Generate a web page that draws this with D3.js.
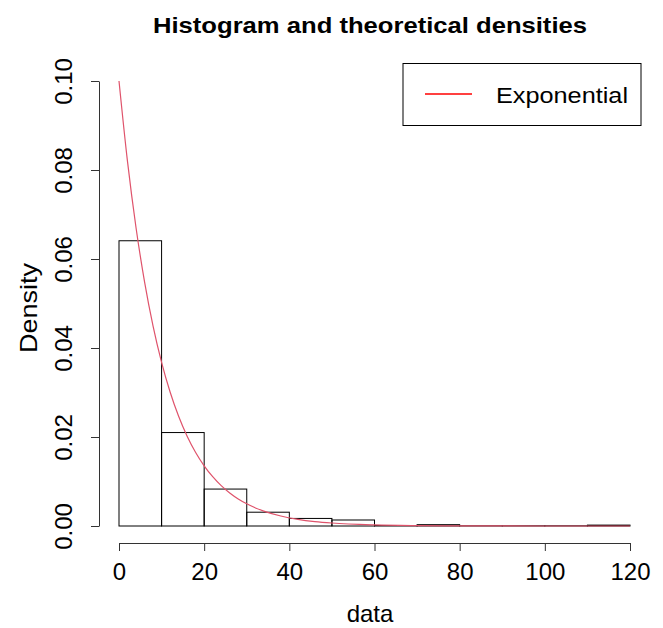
<!DOCTYPE html>
<html lang="en">
<head>
    <meta charset="UTF-8">
    <title>Histogram and theoretical densities</title>
    <script type="text/javascript" src="https://d3js.org/d3.v7.min.js"></script>
    <style>
        body { margin: 0; background: white; }
        text { font-family: "Liberation Sans", Arial, sans-serif; }
    </style>
</head>
<body>
    <svg width="663" height="628"></svg>

    <script>
        // histogram bins (breaks of width 10) and densities
        var binStarts = [0, 10, 20, 30, 40, 50, 60, 70, 80, 90, 100, 110];
        var binDensity = [0.0641, 0.0210, 0.0083, 0.0031, 0.0017, 0.00135, 0.0001, 0.0003, 0.00005, 0.00005, 0.00005, 0.0002];

        // fitted exponential curve, sampled points
        var curveX = [0, 2, 4, 6, 8, 10, 12, 14, 16, 18, 20, 22, 24, 26, 28, 30, 34, 38, 42, 46, 50, 60, 70, 80, 100, 120];
        var curveY = [0.1, 0.08187, 0.06703, 0.05488, 0.04493, 0.03679, 0.03012, 0.02466, 0.02019, 0.01653,
                      0.01353, 0.01108, 0.00907, 0.00743, 0.00608, 0.00498, 0.00334, 0.00224, 0.0015, 0.001,
                      0.00067, 0.00025, 0.00009, 0.00003, 0.000005, 0.0000006];

        var xTicks = [0, 20, 40, 60, 80, 100, 120];
        var yTicks = [0, 0.02, 0.04, 0.06, 0.08, 0.10];

        var svg = d3.select("svg");

        var x = d3.scaleLinear().domain([0, 120]).range([119, 630]);
        var y = d3.scaleLinear().domain([0, 0.10]).range([526, 81]);

        // title
        svg.append("text")
            .attr("x", 153).attr("y", 33)
            .attr("font-weight", "bold")
            .attr("font-size", 22)
            .attr("textLength", 434)
            .attr("lengthAdjust", "spacingAndGlyphs")
            .text("Histogram and theoretical densities");

        // bars
        svg.selectAll("rect.bar")
            .data(binStarts)
            .enter()
            .append("rect")
            .attr("class", "bar")
            .attr("x", d => x(d))
            .attr("width", d => x(d + 10) - x(d))
            .attr("y", (d, i) => y(binDensity[i]))
            .attr("height", (d, i) => y(0) - y(binDensity[i]))
            .attr("fill", "none")
            .attr("stroke", "black")
            .attr("stroke-width", 1);

        // density curve
        var line = d3.line()
            .x(d => x(d[0]))
            .y(d => y(d[1]))
            .curve(d3.curveMonotoneX);

        svg.append("path")
            .datum(curveX.map((v, i) => [v, curveY[i]]))
            .attr("d", line)
            .attr("fill", "none")
            .attr("stroke", "#DF536B")
            .attr("stroke-width", 1.2);

        // x axis
        var xAxis = svg.append("g")
            .attr("transform", "translate(0,543)")
            .call(d3.axisBottom(x).tickValues(xTicks).tickSize(8).tickPadding(12).tickSizeOuter(0));
        xAxis.select(".domain").attr("stroke", "#333");
        xAxis.selectAll(".tick line").attr("stroke", "#333");
        xAxis.selectAll("text")
            .attr("font-size", 24)
            .attr("fill", "black")
            .style("font-family", "'Liberation Sans', Arial, sans-serif");

        // y axis
        var yAxis = svg.append("g")
            .attr("transform", "translate(99,0)")
            .call(d3.axisLeft(y).tickValues(yTicks).tickFormat(d3.format(".2f")).tickSize(8).tickSizeOuter(0));
        yAxis.select(".domain").attr("stroke", "#333");
        yAxis.selectAll(".tick line").attr("stroke", "#333");
        yAxis.selectAll("text")
            .attr("font-size", 24)
            .attr("fill", "black")
            .attr("text-anchor", "middle")
            .attr("dy", 0)
            .attr("x", 0)
            .attr("transform", "translate(-27,0) rotate(-90)")
            .style("font-family", "'Liberation Sans', Arial, sans-serif");

        // axis titles
        svg.append("text")
            .attr("x", 370).attr("y", 622)
            .attr("text-anchor", "middle")
            .attr("font-size", 24)
            .text("data");

        svg.append("text")
            .attr("transform", "translate(37,308) rotate(-90)")
            .attr("text-anchor", "middle")
            .attr("font-size", 24)
            .attr("textLength", 90)
            .attr("lengthAdjust", "spacingAndGlyphs")
            .text("Density");

        // legend
        var legend = svg.append("g");
        legend.append("rect")
            .attr("x", 403).attr("y", 63.5)
            .attr("width", 238).attr("height", 62)
            .attr("fill", "white")
            .attr("stroke", "black");
        legend.append("line")
            .attr("x1", 425).attr("x2", 472)
            .attr("y1", 94).attr("y2", 94)
            .attr("stroke", "red")
            .attr("stroke-width", 1.5);
        legend.append("text")
            .attr("x", 496).attr("y", 103)
            .attr("font-size", 22)
            .attr("textLength", 132)
            .attr("lengthAdjust", "spacingAndGlyphs")
            .text("Exponential");
    </script>
</body>
</html>
